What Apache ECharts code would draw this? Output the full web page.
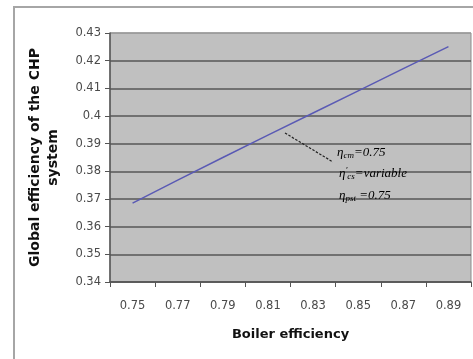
<!DOCTYPE html>
<html>
<head>
<meta charset="utf-8">
<script src="https://cdn.jsdelivr.net/npm/echarts@6/dist/echarts.min.js"></script>
<style>
html,body{margin:0;padding:0;background:#fff;}
#chart{width:473px;height:359px;}
</style>
</head>
<body>
<div id="chart"></div>
<script>
// Data
const boilerEfficiency = ['0.75', '0.77', '0.79', '0.81', '0.83', '0.85', '0.87', '0.89'];
const globalEfficiency = [0.3685, 0.3768, 0.3850, 0.3931, 0.4011, 0.4091, 0.4171, 0.4251];
const yMin = 0.34, yMax = 0.43, yStep = 0.01;
const xTitle = 'Boiler efficiency';
const yTitle = 'Global efficiency of the CHP\nsystem';

const chart = echarts.init(document.getElementById('chart'), null, {renderer: 'canvas'});
const gridColors = [];
for (let i = 0; i < 9; i++) gridColors.push('#575757');
gridColors.push('#9a9a9a');

const tickFont = {fontFamily: 'DejaVu Sans', fontSize: 11.5, color: '#4a4a4a'};
const annFont = 'Liberation Serif';

function annRich() {
  return {
    e: {fontFamily: annFont, fontStyle: 'italic', fontSize: 13, color: '#111'},
    s: {fontFamily: annFont, fontStyle: 'italic', fontSize: 9, color: '#111', padding: [6, 0, 0, 0]},
    p: {fontFamily: annFont, fontStyle: 'italic', fontSize: 9, color: '#111', padding: [0, 0, 6, 0]}
  };
}

chart.setOption({
  backgroundColor: '#ffffff',
  animation: false,
  grid: {
    left: 110, right: 2, top: 33, bottom: 77,
    containLabel: false,
    outerBoundsMode: 'none',
    show: true,
    backgroundColor: '#c0c0c0',
    borderColor: '#8c8c8c',
    borderWidth: 1
  },
  xAxis: {
    type: 'category',
    data: boilerEfficiency,
    boundaryGap: true,
    name: xTitle,
    nameLocation: 'middle',
    nameGap: 46,
    nameTextStyle: {fontFamily: 'DejaVu Sans', fontWeight: 'bold', fontSize: 13, color: '#111'},
    axisLine: {show: true, lineStyle: {color: '#555', width: 1.5}},
    axisTick: {show: true, alignWithLabel: false, length: 5, lineStyle: {color: '#555', width: 1}},
    axisLabel: Object.assign({margin: 18}, tickFont),
    splitLine: {show: false}
  },
  yAxis: {
    type: 'value',
    min: yMin, max: yMax, interval: yStep,
    name: yTitle,
    nameLocation: 'middle',
    nameGap: 48,
    nameRotate: 90,
    nameTextStyle: {fontFamily: 'DejaVu Sans', fontWeight: 'bold', fontSize: 14, color: '#111', lineHeight: 18},
    axisLine: {show: true, lineStyle: {color: '#555', width: 1.5}},
    axisTick: {show: true, length: 5, lineStyle: {color: '#555', width: 1}},
    axisLabel: Object.assign({
      margin: 9,
      formatter: function (v) { return String(+v.toFixed(2)); }
    }, tickFont),
    splitLine: {show: true, lineStyle: {color: gridColors, width: 1.6}}
  },
  series: [{
    type: 'line',
    data: globalEfficiency,
    symbol: 'none',
    smooth: false,
    lineStyle: {color: '#5a5ab4', width: 1.5},
    z: 5
  }],
  graphic: [
    {
      type: 'rect', z: -10, silent: true,
      shape: {x: 14, y: 7, width: 480, height: 380},
      style: {fill: null, stroke: '#a6a6a6', lineWidth: 2}
    },
    {
      type: 'line', z: 10, silent: true,
      shape: {x1: 285, y1: 133, x2: 333, y2: 162},
      style: {stroke: '#222', lineWidth: 1.2, lineDash: [2.5, 1.5]}
    },
    {
      type: 'text', z: 10, left: 337, top: 146, silent: true,
      style: {text: '{e|η}{s|cm}{e|=0.75}', rich: annRich()}
    },
    {
      type: 'text', z: 10, left: 339, top: 166, silent: true,
      style: {text: '{e|η}{p|\'}{s|cs}{e|=variable}', rich: annRich()}
    },
    {
      type: 'text', z: 10, left: 339, top: 189, silent: true,
      style: {text: '{e|η}{s|pst}{e| =0.75}', rich: annRich()}
    }
  ]
});
</script>
</body>
</html>
